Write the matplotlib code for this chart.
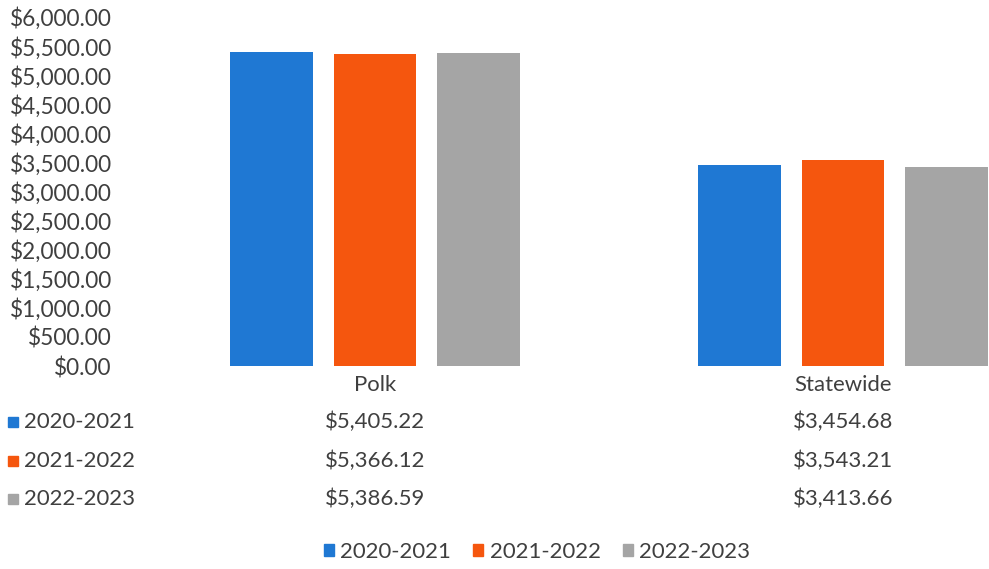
import numpy as np
import matplotlib.pyplot as plt
from matplotlib.patches import Patch, Rectangle

plt.rcParams['font.family'] = ['Lato', 'DejaVu Sans']

regions = ["Polk", "Statewide"]
years = ["2020-2021", "2021-2022", "2022-2023"]
polk = [5405.22, 5366.12, 5386.59]
statewide = [3454.68, 3543.21, 3413.66]
colors = ['#1F78D3', '#F5560E', '#A5A5A5']
text_color = '#3F3F3F'
fs = 15.9

W, H = 989, 569
fig = plt.figure(figsize=(W / 100, H / 100), dpi=100)
# axes run from x=141px; right side of the chart is cut at the figure edge
ax = fig.add_axes([141 / W, 1 - 366 / H, (W - 141) / W, (366 - 17) / H])

x = np.arange(len(regions))
width = 0.177
step = 0.222
values = np.array([polk, statewide]).T  # rows: years, cols: regions
for i, yr in enumerate(years):
    ax.bar(x + (i - 1) * step, values[i], width, color=colors[i], label=yr)

ax.set_xlim(-0.5, (W - 141) / 468 - 0.5)
ax.set_ylim(0, 6000)
ax.set_yticks(np.arange(0, 6001, 500))
ax.set_yticklabels([f"${v:,.2f}" for v in np.arange(0, 6001, 500)],
                   fontsize=16.3, color=text_color)
ax.tick_params(axis='y', length=0, pad=21)
ax.set_xticks([])
for s in ax.spines.values():
    s.set_visible(False)

# data table under the bars
ax_h = 366 - 17
def row_y(py):
    return (366 - py) / ax_h

for j, reg in enumerate(regions):
    ax.text(x[j], row_y(385), reg, ha='center', va='center', fontsize=fs,
            color=text_color, transform=ax.get_xaxis_transform(), clip_on=False)
row_px = [422, 461, 499]
for i, yr in enumerate(years):
    fig.add_artist(Rectangle((8 / W, 1 - (row_px[i] + 5) / H), 10 / W, 10 / H,
                             transform=fig.transFigure, color=colors[i]))
    fig.text(24 / W, 1 - row_px[i] / H, yr, ha='left', va='center',
             fontsize=fs, color=text_color)
    for j in range(len(regions)):
        ax.text(x[j], row_y(row_px[i]), f"${values[i][j]:,.2f}", ha='center',
                va='center', fontsize=fs, color=text_color,
                transform=ax.get_xaxis_transform(), clip_on=False)

handles = [Patch(color=c, label=y) for c, y in zip(colors, years)]
fig.legend(handles=handles, loc='center', bbox_to_anchor=(537 / W, 1 - 552 / H),
           ncol=3, frameon=False, fontsize=fs, handlelength=0.45,
           handleheight=0.45, handletextpad=0.3, columnspacing=1.0,
           labelcolor=text_color)

fig.savefig('out.png', dpi=100, facecolor='white')
